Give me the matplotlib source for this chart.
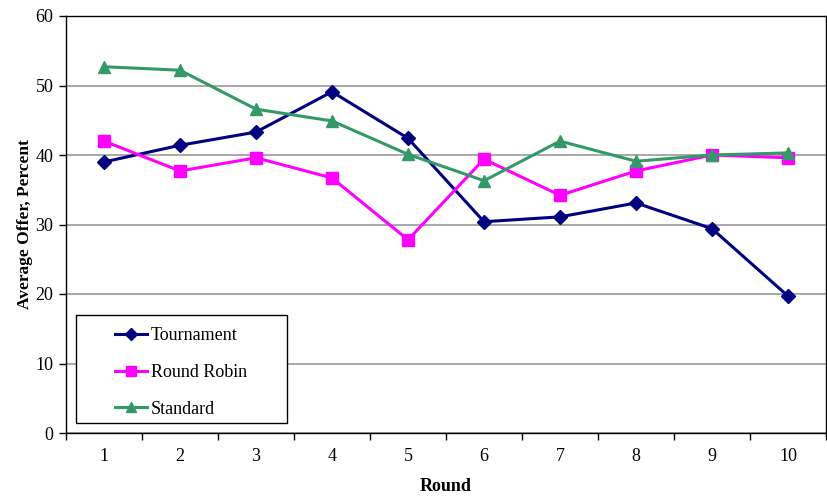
import matplotlib
matplotlib.use("Agg")
import matplotlib.pyplot as plt
from matplotlib.patches import Rectangle

rounds = [1, 2, 3, 4, 5, 6, 7, 8, 9, 10]
tournament = [39.0, 41.4, 43.3, 49.1, 42.4, 30.4, 31.1, 33.1, 29.4, 19.7]
round_robin = [42.0, 37.7, 39.6, 36.7, 27.8, 39.4, 34.2, 37.7, 40.0, 39.6]
standard = [52.7, 52.2, 46.6, 44.9, 40.1, 36.3, 42.0, 39.1, 40.0, 40.3]

plt.rcParams["font.family"] = ["Liberation Serif", "DejaVu Serif"]

W, H = 828, 501
fig = plt.figure(figsize=(W / 100, H / 100), dpi=100)
ax = fig.add_axes([66 / W, 1 - 433 / H, 760 / W, 417 / H])

ax.plot(rounds, tournament, "-D", color="#000080", lw=2.2, ms=7, label="Tournament")
ax.plot(rounds, round_robin, "-s", color="#ff00ff", lw=2.2, ms=8.5, label="Round Robin")
ax.plot(rounds, standard, "-^", color="#339966", lw=2.2, ms=9, label="Standard")

ax.set_xlim(0.5, 10.5)
ax.set_ylim(0, 60)
ax.set_yticks(range(0, 61, 10))
ax.yaxis.grid(True, color="#999999", lw=1.2)
ax.set_axisbelow(True)

# category labels at centres, tick marks on the category boundaries
ax.set_xticks(rounds)
ax.set_xticks([r + 0.5 for r in range(0, 11)], minor=True)
ax.tick_params(axis="x", which="major", length=0, pad=11, labelsize=13)
ax.tick_params(axis="x", which="minor", length=5, width=1)
ax.tick_params(axis="y", length=5, width=1, labelsize=13, pad=4)

for s in ax.spines.values():
    s.set_linewidth(1)
    s.set_color("black")

ax.set_xlabel("Round", fontsize=13, fontweight="bold", labelpad=9)
ax.set_ylabel("Average Offer, Percent", fontsize=12.5, fontweight="bold", labelpad=2)

# legend box: wide side margins, tight top/bottom
frame = Rectangle((76 / W, 1 - 423 / H), 211 / W, 108 / H, transform=fig.transFigure,
                  facecolor="white", edgecolor="black", lw=1, zorder=4)
fig.patches.append(frame)

leg = fig.legend(*ax.get_legend_handles_labels(), loc="upper left",
                 bbox_to_anchor=(115 / W, 1 - 327 / H), frameon=False,
                 fontsize=13, borderpad=0, labelspacing=1.1, handlelength=1.75,
                 handletextpad=0.25, borderaxespad=0, markerscale=0.85)
leg.set_zorder(5)

fig.savefig("out.png", dpi=100)
